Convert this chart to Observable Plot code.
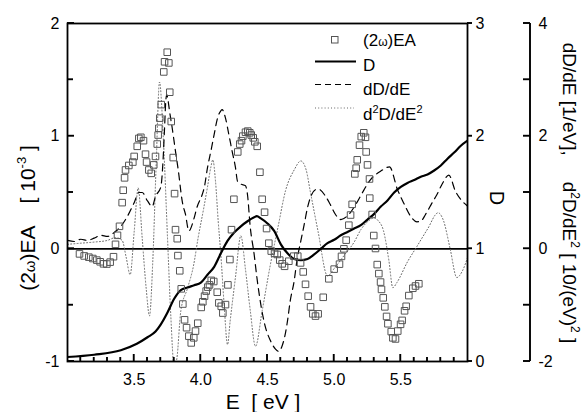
<!DOCTYPE html>
<html><head><meta charset="utf-8">
<script src="https://cdn.jsdelivr.net/npm/d3@7"></script>
<script src="https://cdn.jsdelivr.net/npm/@observablehq/plot@0.6"></script>
<style>body{margin:0;background:#fff;} text{white-space:pre;}</style>
</head><body><div id="chart"></div>
<script>
// (2ω)EA signal [10^-3] : [E (eV), value]
const eaPoints = [
[3.09,-0.045],[3.125,-0.063],[3.16,-0.074],[3.19,-0.086],[3.22,-0.10],[3.245,-0.115],[3.27,-0.133],[3.295,-0.135],
[3.32,-0.118],[3.345,-0.07],[3.36,0.04],[3.375,0.12],[3.39,0.20],[3.41,0.41],[3.418,0.52],[3.428,0.63],[3.435,0.70],
[3.46,0.74],[3.49,0.77],[3.50,0.82],[3.523,0.91],[3.535,0.98],[3.55,0.99],[3.57,0.96],[3.585,0.84],[3.593,0.77],
[3.61,0.70],[3.628,0.67],[3.647,0.745],[3.66,0.82],[3.673,0.93],[3.68,1.01],[3.685,1.07],[3.692,1.16],[3.703,1.28],
[3.722,1.57],[3.728,1.66],[3.748,1.745],[3.76,1.65],[3.767,1.39],[3.778,1.13],[3.793,0.81],[3.803,0.49],[3.81,0.17],
[3.823,0.09],[3.828,-0.06],[3.842,-0.195],[3.853,-0.355],[3.865,-0.49],[3.878,-0.63],[3.893,-0.70],[3.91,-0.775],
[3.928,-0.835],[3.947,-0.79],[3.96,-0.73],[3.977,-0.66],[4.003,-0.52],[4.015,-0.47],[4.028,-0.42],[4.04,-0.375],
[4.052,-0.34],[4.065,-0.32],[4.078,-0.28],[4.097,-0.29],[4.123,-0.385],[4.135,-0.48],[4.153,-0.51],[4.165,-0.57],
[4.185,-0.495],[4.203,-0.32],[4.218,-0.095],[4.23,0.17],[4.248,0.44],[4.277,0.86],[4.292,0.93],[4.305,0.96],
[4.315,1.00],[4.335,1.035],[4.352,1.045],[4.367,1.03],[4.378,1.01],[4.393,0.985],[4.405,0.95],[4.423,0.91],
[4.443,0.68],[4.46,0.44],[4.478,0.325],[4.493,0.18],[4.51,0.05],[4.528,-0.02],[4.553,-0.04],[4.573,-0.05],
[4.592,-0.10],[4.61,-0.133],[4.628,-0.155],[4.66,-0.11],[4.697,-0.065],[4.727,-0.065],[4.748,-0.125],[4.768,-0.205],
[4.785,-0.315],[4.805,-0.42],[4.823,-0.515],[4.84,-0.577],[4.86,-0.597],[4.88,-0.577],[4.918,-0.43],[4.96,-0.266],
[5.0,-0.18],[5.04,-0.136],[5.055,-0.067],[5.073,0.0],[5.09,0.077],[5.11,0.21],[5.123,0.30],[5.135,0.395],
[5.155,0.665],[5.165,0.716],[5.173,0.79],[5.19,0.92],[5.203,0.996],[5.222,1.03],[5.235,0.99],[5.24,0.86],
[5.25,0.745],[5.265,0.62],[5.267,0.45],[5.285,0.305],[5.297,0.118],[5.31,0.003],[5.323,-0.14],[5.335,-0.22],
[5.348,-0.295],[5.355,-0.36],[5.368,-0.435],[5.38,-0.515],[5.393,-0.60],[5.403,-0.665],[5.428,-0.735],[5.44,-0.79],
[5.46,-0.80],[5.477,-0.73],[5.498,-0.67],[5.51,-0.635],[5.528,-0.55],[5.54,-0.51],[5.56,-0.415],[5.59,-0.35],
[5.61,-0.33],[5.635,-0.31]
];
// D : [E, D]
const dPoints = [
[3.0,0.04],[3.2,0.06],[3.4,0.10],[3.52,0.157],[3.6,0.215],[3.66,0.266],[3.7,0.33],[3.75,0.435],[3.8,0.557],
[3.85,0.634],[3.9,0.657],[3.95,0.677],[4.0,0.70],[4.05,0.77],[4.1,0.84],[4.15,0.96],[4.2,1.07],[4.25,1.145],
[4.3,1.20],[4.35,1.245],[4.4,1.28],[4.42,1.29],[4.45,1.27],[4.5,1.225],[4.55,1.16],[4.6,1.04],[4.65,0.96],
[4.7,0.91],[4.75,0.90],[4.8,0.91],[4.85,0.95],[4.9,1.00],[4.95,1.05],[5.0,1.08],[5.05,1.12],[5.1,1.15],
[5.15,1.18],[5.2,1.21],[5.25,1.26],[5.3,1.31],[5.35,1.375],[5.4,1.43],[5.45,1.50],[5.5,1.55],[5.55,1.585],
[5.6,1.61],[5.65,1.64],[5.7,1.66],[5.75,1.695],[5.8,1.74],[5.85,1.80],[5.9,1.855],[5.95,1.915],[6.0,1.96]
];
// dD/dE [1/eV] : [E, value]
const dDdEPoints = [
[3.0,0.15],[3.05,0.13],[3.1,0.17],[3.15,0.15],[3.2,0.19],[3.25,0.24],[3.3,0.22],[3.35,0.29],[3.4,0.40],[3.45,0.58],
[3.5,0.82],[3.535,1.0],[3.56,1.0],[3.6,0.85],[3.635,0.75],[3.66,0.93],[3.7,1.10],[3.715,1.5],[3.728,2.15],
[3.737,2.62],[3.745,2.74],[3.755,2.62],[3.765,2.45],[3.785,2.15],[3.81,1.73],[3.835,1.32],[3.85,1.02],[3.86,0.85],
[3.885,0.61],[3.91,0.32],[3.95,0.55],[3.97,0.73],[4.01,0.96],[4.025,1.08],[4.05,1.44],[4.075,1.73],[4.1,2.03],
[4.125,2.32],[4.15,2.45],[4.16,2.47],[4.185,2.32],[4.21,2.03],[4.235,1.73],[4.26,1.44],[4.275,1.20],[4.3,1.15],
[4.335,1.12],[4.35,0.96],[4.37,0.40],[4.4,-0.10],[4.42,-0.50],[4.45,-0.99],[4.48,-1.35],[4.52,-1.62],[4.56,-1.78],
[4.585,-1.82],[4.61,-1.72],[4.63,-1.55],[4.65,-1.28],[4.67,-0.93],[4.7,-0.57],[4.72,-0.22],[4.75,0.14],[4.775,0.43],
[4.8,0.73],[4.82,0.90],[4.86,1.05],[4.88,1.06],[4.935,0.935],[4.97,0.79],[5.01,0.61],[5.05,0.52],[5.12,0.64],
[5.17,0.82],[5.21,0.99],[5.27,1.22],[5.35,1.38],[5.415,1.455],[5.475,1.05],[5.52,0.82],[5.57,0.59],[5.62,0.48],
[5.65,0.49],[5.685,0.61],[5.735,0.82],[5.77,0.96],[5.81,1.15],[5.86,1.31],[5.91,1.02],[5.95,0.875],[6.0,0.76]
];
// d2D/dE2 [10/(eV)^2] : [E, value]
const d2DdE2Points = [
[3.0,0.08],[3.1,0.10],[3.2,0.12],[3.3,0.15],[3.36,0.20],[3.41,0.15],[3.44,-0.15],[3.47,-0.46],[3.5,0.30],[3.53,1.08],
[3.56,0.20],[3.59,-0.70],[3.615,-1.19],[3.64,-0.20],[3.665,1.50],[3.69,2.96],[3.72,1.90],[3.75,0.20],[3.775,-1.20],
[3.80,-2.10],[3.82,-1.95],[3.85,-1.10],[3.9,-0.70],[3.945,-0.30],[3.98,0.20],[4.02,0.70],[4.05,1.10],[4.075,1.45],
[4.09,1.58],[4.11,1.20],[4.13,0.50],[4.15,-0.10],[4.175,-1.00],[4.2,-1.70],[4.22,-1.28],[4.26,-0.50],[4.3,0.23],
[4.335,-0.37],[4.37,-1.08],[4.41,-1.73],[4.46,-1.10],[4.52,-0.30],[4.58,0.40],[4.635,1.03],[4.7,1.40],[4.75,1.56],
[4.79,1.40],[4.82,1.03],[4.88,0.30],[4.95,-0.48],[5.0,-0.35],[5.08,-0.10],[5.15,0.12],[5.2,0.34],[5.25,0.48],
[5.3,0.55],[5.33,0.50],[5.37,0.32],[5.41,-0.20],[5.44,-0.69],[5.47,-0.60],[5.55,-0.23],[5.62,0.04],[5.7,0.35],
[5.78,0.64],[5.82,0.50],[5.87,0.00],[5.92,-0.51],[5.96,-0.40],[6.0,-0.16]
];

const xDomain = [3.0, 6.0];
const yDomain = [-1, 2];               // (2ω)EA [10^-3]
const xMajor = [3.5, 4.0, 4.5, 5.0, 5.5];
const xMinor = [3.1,3.2,3.3,3.4,3.6,3.7,3.8,3.9,4.1,4.2,4.3,4.4,4.6,4.7,4.8,4.9,5.1,5.2,5.3,5.4,5.6,5.7,5.8,5.9];
const yMajor = [-1, 0, 1, 2];
const yMinor = [-0.5, 0.5, 1.5];
const dTicks = [0, 1, 2, 3];           // D axis
const derivMajor = [-2, 0, 2, 4];      // dD/dE, d2D/dE2 axis
const derivMinor = [-1, 1, 3];

// map secondary axes onto the primary y scale
const fromD = v => v - 1;
const fromDeriv = v => v / 2;

const ea = eaPoints.map(([E, v]) => ({E, v}));
const D = dPoints.map(([E, v]) => ({E, v: fromD(v)}));
const d1 = dDdEPoints.map(([E, v]) => ({E, v: fromDeriv(v)}));
const d2 = d2DdE2Points.map(([E, v]) => ({E, v: fromDeriv(v)}));

const font = '"Liberation Sans", Arial, sans-serif';
const W = 584, H = 412, mL = 67, mR = 117, mT = 23, mB = 51;
const frameW = W - mL - mR, frameH = H - mT - mB;
const farGap = 63; // distance (px) of the derivative axis from the frame
const pxX = (xDomain[1] - xDomain[0]) / frameW;
const pxY = (yDomain[1] - yDomain[0]) / frameH;
const xL = xDomain[0], xR = xDomain[1], yB = yDomain[0], yTop = yDomain[1];

// thin filled bars used as tick marks (rect marks, in data units)
const vTicks = (vals, lenPx) => vals.map(v => ({x1: v - 0.8 * pxX, x2: v + 0.8 * pxX, y1: yB, y2: yB + lenPx * pxY}));
const hTicks = (vals, xStart, lenPx) => vals.map(v => ({x1: xStart, x2: xStart + lenPx * pxX, y1: v - 0.8 * pxY, y2: v + 0.8 * pxY}));
const tickRects = [
  ...vTicks(xMajor, 7), ...vTicks(xMinor, 4),
  ...hTicks(yMajor, xL, 7), ...hTicks(yMinor, xL, 6),
  ...hTicks(dTicks.map(fromD), xR, 5),
  ...hTicks(derivMajor.concat(derivMinor).map(fromDeriv), xR + (farGap - 7) * pxX, 7),
  {x1: xR + (farGap - 0.8) * pxX, x2: xR + (farGap + 0.8) * pxX, y1: yB, y2: yTop}
];

const chart = Plot.plot({
  width: W, height: H,
  marginLeft: mL, marginRight: mR, marginTop: mT, marginBottom: mB,
  style: {fontFamily: font, fontSize: "16px", background: "white", color: "black"},
  x: {domain: xDomain},
  y: {domain: yDomain},
  marks: [
    Plot.ruleY([0], {stroke: "black", strokeWidth: 1.8}),
    Plot.line(d2, {x: "E", y: "v", stroke: "#666", strokeWidth: 1, strokeDasharray: "1,2.2", curve: "monotone-x", clip: true}),
    Plot.line(d1, {x: "E", y: "v", stroke: "black", strokeWidth: 1.2, strokeDasharray: "7,5", curve: "monotone-x", clip: true}),
    Plot.line(D, {x: "E", y: "v", stroke: "black", strokeWidth: 2.2, curve: "monotone-x", clip: true}),
    Plot.dot(ea, {x: "E", y: "v", symbol: "square", r: 3.7, stroke: "#555", fill: "none", strokeWidth: 1}),
    Plot.frame({stroke: "black", strokeWidth: 1.8}),
    Plot.rect(tickRects, {x1: "x1", x2: "x2", y1: "y1", y2: "y2", fill: "black"}),
    Plot.axisX({anchor: "bottom", ticks: xMajor, tickSize: 0, tickPadding: 12, tickFormat: d3.format(".1f"), label: null}),
    Plot.axisY({anchor: "left", ticks: yMajor, tickSize: 0, tickPadding: 8, tickFormat: v => String(v), label: null}),
    Plot.axisY({anchor: "right", ticks: dTicks.map(fromD), tickSize: 0, tickPadding: 8,
      tickFormat: v => String(Math.round(v + 1)), label: null}),
    Plot.axisY({anchor: "right", ticks: derivMajor.map(fromDeriv), tickSize: 0, tickPadding: 8, dx: farGap,
      tickFormat: v => String(Math.round(v * 2)), label: null})
  ]
});
document.getElementById("chart").appendChild(chart);

const svg = d3.select(chart);
const X = d3.scaleLinear(xDomain, [mL, W - mR]);
const Y = d3.scaleLinear(yDomain, [H - mB, mT]);
const g = svg.append("g").attr("font-family", font).attr("fill", "black").attr("text-anchor", "start");

// tick marks again as explicit lines (same group type as the legend lines)
const seg = (x1, y1, x2, y2) => g.append("line").attr("x1", x1).attr("y1", y1).attr("x2", x2).attr("y2", y2)
  .attr("stroke", "black").attr("stroke-width", 1.5);
const pB = Y(yDomain[0]), pT = Y(yDomain[1]), pL = X(xDomain[0]), pR = X(xDomain[1]), pFar = pR + farGap;
xMajor.forEach(v => seg(X(v), pB, X(v), pB - 7));
xMinor.forEach(v => seg(X(v), pB, X(v), pB - 4));
yMajor.forEach(v => seg(pL, Y(v), pL + 7, Y(v)));
yMinor.forEach(v => seg(pL, Y(v), pL + 6, Y(v)));
dTicks.forEach(v => seg(pR, Y(fromD(v)), pR + 5, Y(fromD(v))));
seg(pFar, pT, pFar, pB);
derivMajor.concat(derivMinor).forEach(v => seg(pFar - 7, Y(fromDeriv(v)), pFar, Y(fromDeriv(v))));

// left title
const lt = g.append("text").attr("transform", "translate(35,218) rotate(-90)")
  .attr("text-anchor", "middle").attr("font-size", 21);
lt.append("tspan").text("(2");
lt.append("tspan").attr("font-size", 15).text("ω");
lt.append("tspan").text(")EA");
lt.append("tspan").attr("dx", 22).text("[ 10");
lt.append("tspan").attr("font-size", 13).attr("dy", -9).text("-3");
lt.append("tspan").attr("dy", 9).text(" ]");

// D title
g.append("text").attr("transform", "translate(490,198) rotate(90)")
  .attr("text-anchor", "middle").attr("font-size", 20).text("D");

// far right title
const rt = g.append("text").attr("transform", "translate(563,193) rotate(90)")
  .attr("text-anchor", "middle").attr("font-size", 19);
rt.append("tspan").text("dD/dE [1/eV],");
rt.append("tspan").attr("dx", 26).text("d");
rt.append("tspan").attr("font-size", 12).attr("dy", -8).text("2");
rt.append("tspan").attr("dy", 8).text("D/dE");
rt.append("tspan").attr("font-size", 12).attr("dy", -8).text("2");
rt.append("tspan").attr("dy", 8).text(" [ 10/(eV)");
rt.append("tspan").attr("font-size", 12).attr("dy", -8).text("2");
rt.append("tspan").attr("dy", 8).text(" ]");

// x title
g.append("text").attr("x", 263).attr("y", 409).attr("text-anchor", "middle")
  .attr("font-size", 21).text("E  [ eV ]");

// legend
const lg = g.append("g").attr("text-anchor", "start");
lg.append("rect").attr("x", 331.5).attr("y", 36.5).attr("width", 6.5).attr("height", 6.5)
  .attr("fill", "none").attr("stroke", "#555").attr("stroke-width", 1);
lg.append("line").attr("x1", 315).attr("x2", 356).attr("y1", 61.5).attr("y2", 61.5)
  .attr("stroke", "black").attr("stroke-width", 2.2);
lg.append("line").attr("x1", 315).attr("x2", 354).attr("y1", 84.5).attr("y2", 84.5)
  .attr("stroke", "black").attr("stroke-width", 1.2).attr("stroke-dasharray", "6,4");
lg.append("line").attr("x1", 315).attr("x2", 354).attr("y1", 108).attr("y2", 108)
  .attr("stroke", "#666").attr("stroke-width", 1).attr("stroke-dasharray", "1,2.2");
const t1 = lg.append("text").attr("x", 363).attr("y", 46).attr("font-size", 17);
t1.append("tspan").text("(2"); t1.append("tspan").attr("font-size", 12).text("ω"); t1.append("tspan").text(")EA");
lg.append("text").attr("x", 363).attr("y", 71).attr("font-size", 17).text("D");
lg.append("text").attr("x", 363).attr("y", 95).attr("font-size", 17).text("dD/dE");
const t4 = lg.append("text").attr("x", 363).attr("y", 120).attr("font-size", 17);
t4.append("tspan").text("d");
t4.append("tspan").attr("font-size", 11).attr("dy", -7).text("2");
t4.append("tspan").attr("dy", 7).text("D/dE");
t4.append("tspan").attr("font-size", 11).attr("dy", -7).text("2");
</script>
</body></html>
